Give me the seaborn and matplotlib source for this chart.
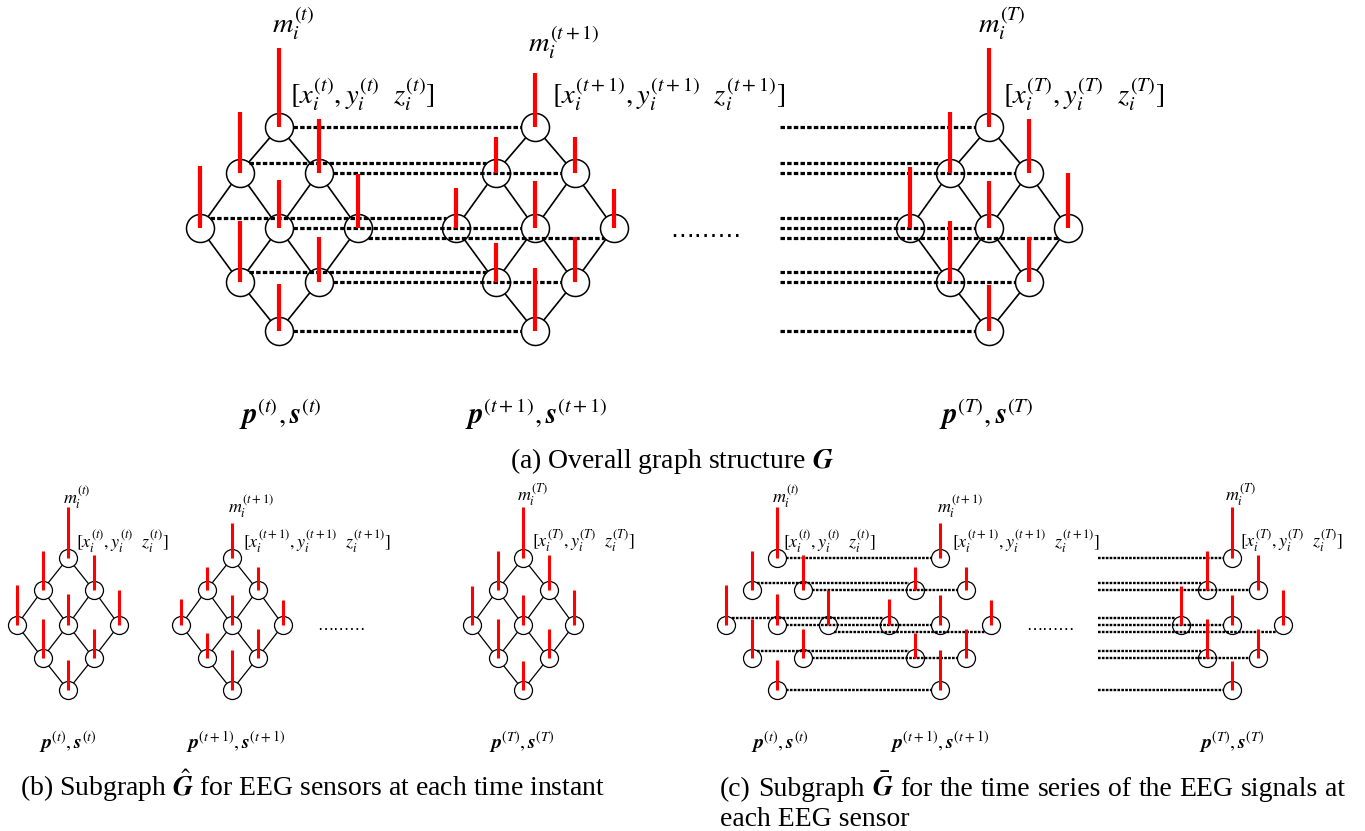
import numpy as np
import pandas as pd
import matplotlib
matplotlib.use("Agg")
import matplotlib.pyplot as plt
import seaborn as sns

# ---------------- data ----------------
# sensor lattice (diamond of 9 EEG sensors): column / row index of each node
node_col = [0, -1, 1, -2, 0, 2, -1, 1, 0]
node_row = [0, 1, 1, 2, 2, 2, 3, 3, 4]
# spatial edges between neighbouring sensors
edge_a = [0, 0, 1, 1, 2, 2, 3, 4, 4, 5, 6, 7]
edge_b = [1, 2, 3, 4, 4, 5, 6, 6, 7, 7, 8, 8]
# lane of the temporal (dashed) connection for each sensor
dash_lane = [0, -1, 0, -1, 0, 1, -1, 0, 0]
# signal magnitude m_i at each time instant (red bars)
m_t = [79, 61, 54, 62, 48, 54, 61, 45, 47]
m_t1 = [54, 36, 36, 40, 47, 39, 39, 45, 63]
m_T = [79, 61, 54, 61, 47, 55, 61, 45, 46]
signals = [m_t, m_t1, m_T]
time_sup = ["t", "t+1", "T"]
caption_a = r"(a) Overall graph structure $\boldsymbol{G}$"
caption_b = r"(b) Subgraph $\hat{\boldsymbol{G}}$ for EEG sensors at each time instant"
caption_c1 = r"(c) Subgraph $\bar{\boldsymbol{G}}$ for the time series of the EEG signals at"
caption_c2 = "each EEG sensor"

# ---------------- layout ----------------
panels = {
    "a": dict(cx=[279, 535, 989], top=127, sx=39.5, row_dy=[0, 46, 101, 155, 204],
              r=14, bar=1.0, lattice=True, dashed=True, lane=10, tail=780,
              lw_edge=1.2, lw_circ=1.1, lw_bar=3.0, lw_dash=2.3, dash=(3.2, 1.6),
              fs=20.5, fs_p=21,
              m_pos=[(272, 33), (528, 52), (978, 33)],
              b_pos=[(290, 104), (552, 104), (1003, 104)],
              p_pos=[(280, 424), (536, 424), (986, 424)],
              dots=(706, 230), fs_dots=17),
    "b": dict(cx=[68, 232, 523], top=558, sx=25.5, row_dy=[0, 32, 67, 100, 132],
              r=9, bar=0.64, lattice=True, dashed=False, lane=7, tail=None,
              lw_edge=0.9, lw_circ=0.9, lw_bar=2.2, lw_dash=1.6, dash=(2.0, 1.0),
              fs=13, fs_p=14.5,
              m_pos=[(63, 504), (228, 513), (517, 502)],
              b_pos=[(76, 548), (243, 548), (532, 548)],
              p_pos=[(68, 749), (236, 749), (522, 749)],
              dots=(341, 625), fs_dots=11.5),
    "c": dict(cx=[777, 940, 1232], top=558, sx=25.5, row_dy=[0, 32, 67, 100, 132],
              r=9, bar=0.64, lattice=False, dashed=True, lane=7, tail=1098,
              lw_edge=0.9, lw_circ=0.9, lw_bar=2.2, lw_dash=1.7, dash=(1.9, 0.9),
              fs=13, fs_p=14.5,
              m_pos=[(772, 503), (937, 513), (1225, 502)],
              b_pos=[(783, 548), (952, 548), (1240, 548)],
              p_pos=[(780, 749), (940, 749), (1232, 749)],
              dots=(1050, 625), fs_dots=11.5),
}

sns.set_theme(style="white")
plt.rcParams["mathtext.fontset"] = "stix"
plt.rcParams["font.family"] = ["Liberation Serif", "DejaVu Serif"]
plt.rcParams["text.color"] = "black"
plt.rcParams["lines.scale_dashes"] = False

W, H = 1365, 831
fig = plt.figure(figsize=(W / 100, H / 100), dpi=100)
ax = fig.add_axes([0, 0, 1, 1])
ax.set_xlim(0, W)
ax.set_ylim(H, 0)
ax.axis("off")

col = np.array(node_col)
row = np.array(node_row)

for key, P in panels.items():
    rows = []
    row_dy = np.array(P["row_dy"])
    for g, cx in enumerate(P["cx"]):
        xs = cx + col * P["sx"]
        ys = P["top"] + row_dy[row]
        for i in range(len(col)):
            rows.append(dict(graph=g, node=i, x=xs[i], y=ys[i], m=signals[g][i]))
    df = pd.DataFrame(rows)

    # spatial edges
    if P["lattice"]:
        for g in range(3):
            d = df[df.graph == g].set_index("node")
            for a, b in zip(edge_a, edge_b):
                ax.plot([d.x[a], d.x[b]], [d.y[a], d.y[b]], color="black",
                        lw=P["lw_edge"], zorder=1, solid_capstyle="butt")

    # nodes
    msize = (2 * P["r"] * 0.72) ** 2
    sns.scatterplot(data=df, x="x", y="y", s=msize, color="white",
                    edgecolor="black", linewidth=P["lw_circ"], ax=ax,
                    zorder=2, legend=False)

    # temporal dashed edges
    if P["dashed"]:
        d0 = df[df.graph == 0].set_index("node")
        d1 = df[df.graph == 1].set_index("node")
        d2 = df[df.graph == 2].set_index("node")
        r = P["r"]
        for i in range(len(col)):
            off = dash_lane[i] * P["lane"]
            dx = np.sqrt(max(r * r - off * off, 0))
            y = d0.y[i] + off
            ax.plot([d0.x[i] + dx, d1.x[i] - dx], [y, y], color="black",
                    lw=P["lw_dash"], dashes=P["dash"], zorder=3)
            ax.plot([P["tail"], d2.x[i] - dx], [y, y], color="black",
                    lw=P["lw_dash"], dashes=P["dash"], zorder=3)

    # red signal bars
    ax.vlines(df.x, df.y, df.y - df.m * P["bar"], color="#ff0000",
              lw=P["lw_bar"], zorder=4)

    # labels
    for g, s in enumerate(time_sup):
        mx, my = P["m_pos"][g]
        ax.text(mx, my, rf"$m_i^{{({s})}}$", fontsize=P["fs"], ha="left",
                va="baseline", zorder=5)
        bx, by = P["b_pos"][g]
        ax.text(bx, by, rf"$[x_i^{{({s})}}, y_i^{{({s})}}\ \ z_i^{{({s})}}]$",
                fontsize=P["fs"], ha="left", va="baseline", zorder=5)
        px, py = P["p_pos"][g]
        ax.text(px, py, rf"$\boldsymbol{{p}}^{{({s})}},\boldsymbol{{s}}^{{({s})}}$",
                fontsize=P["fs_p"], ha="center", va="baseline", zorder=5)
    ax.text(P["dots"][0], P["dots"][1], "\u2026\u2026\u2026", fontsize=P["fs_dots"],
            ha="center", va="center", family="DejaVu Sans")

# captions
ax.text(672, 468, caption_a, fontsize=20, ha="center", va="baseline")
ax.text(20, 796, caption_b, fontsize=20, ha="left", va="baseline")

# justified first line of caption (c)
renderer = fig.canvas.get_renderer()
left, right, base = 720, 1345, 796
words = caption_c1.replace(r"$\bar{\boldsymbol{G}}$", "\x00").split(" ")
words = [w.replace("\x00", r"$\bar{\boldsymbol{G}}$") for w in words]
tobjs = [ax.text(0, base, w, fontsize=20, ha="left", va="baseline") for w in words]
widths = [t.get_window_extent(renderer).width for t in tobjs]
gap = (right - left - sum(widths)) / (len(words) - 1)
x = left
for t, w in zip(tobjs, widths):
    t.set_x(x)
    x += w + gap
ax.text(left, 826, caption_c2, fontsize=20, ha="left", va="baseline")

fig.savefig("out.png", dpi=100)
